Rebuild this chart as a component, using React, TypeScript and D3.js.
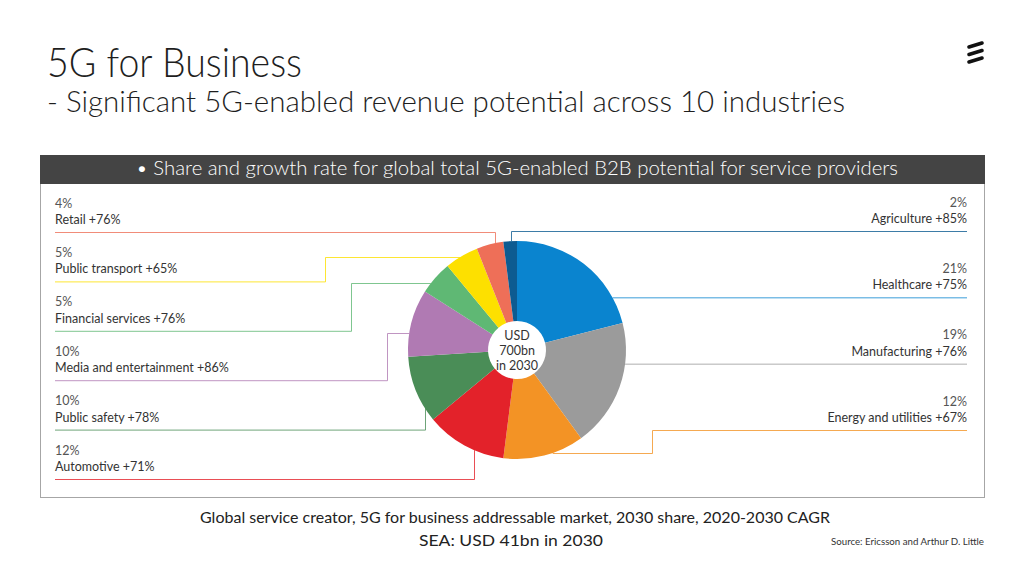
import React, { useEffect, useRef } from "react";
import * as d3 from "d3";

// slices, clockwise from 12 o'clock
const industries = [
  "Healthcare",
  "Manufacturing",
  "Energy and utilities",
  "Automotive",
  "Public safety",
  "Media and entertainment",
  "Financial services",
  "Public transport",
  "Retail",
  "Agriculture",
];
const shares = [21, 19, 12, 12, 10, 10, 5, 5, 4, 2];
const growth = [75, 76, 67, 71, 78, 86, 76, 65, 76, 85];
const sliceColors = [
  "#0a84cf",
  "#9b9b9b",
  "#f39325",
  "#e3222a",
  "#4a8d57",
  "#b07ab3",
  "#5fb874",
  "#fde000",
  "#ee6f58",
  "#0d5b91",
];

const leftLabels = [
  "Retail",
  "Public transport",
  "Financial services",
  "Media and entertainment",
  "Public safety",
  "Automotive",
];
const rightLabels = ["Agriculture", "Healthcare", "Manufacturing", "Energy and utilities"];

// leader routing: where it hooks into the slice (fraction of slice) and elbow x
const leaderStyle = {
  Retail: { mode: "v", t: 0.7 },
  "Public transport": { mode: "step", t: 0.46, elbow: 325 },
  "Financial services": { mode: "step", t: 0.3, elbow: 351 },
  "Media and entertainment": { mode: "step", t: 0.35, elbow: 387 },
  "Public safety": { mode: "v", t: 0.21 },
  Automotive: { mode: "v", t: 0.37 },
  Agriculture: { mode: "v", t: 0.55 },
  Healthcare: { mode: "h" },
  Manufacturing: { mode: "h" },
  "Energy and utilities": { mode: "step", t: 0.39, elbow: 652 },
};

const FONT = "Lato, 'Noto Sans', sans-serif";

const App = () => {
  const ref = useRef(null);

  useEffect(() => {
    const width = 1024;
    const height = 576;
    const svg = d3.select(ref.current);
    svg.selectAll("*").remove();
    svg.attr("width", width).attr("height", height);

    svg.append("rect").attr("width", width).attr("height", height).attr("fill", "#fff");

    // titles
    svg
      .append("text")
      .attr("x", 47)
      .attr("y", 77)
      .attr("font-family", FONT)
      .attr("font-weight", 300)
      .attr("font-size", 42)
      .attr("fill", "#1e1e1e")
      .attr("textLength", 255)
      .attr("lengthAdjust", "spacingAndGlyphs")
      .text("5G for Business");
    svg
      .append("text")
      .attr("x", 47)
      .attr("y", 112)
      .attr("font-family", FONT)
      .attr("font-weight", 300)
      .attr("font-size", 30)
      .attr("fill", "#1e1e1e")
      .attr("textLength", 798)
      .attr("lengthAdjust", "spacingAndGlyphs")
      .text("- Significant 5G-enabled revenue potential across 10 industries");

    // logo
    const logo = svg.append("g").attr("stroke", "#111").attr("stroke-width", 3.6).attr("stroke-linecap", "round");
    [0, 7.5, 15].forEach((dy) => {
      logo
        .append("line")
        .attr("x1", 969)
        .attr("y1", 47 + dy)
        .attr("x2", 982)
        .attr("y2", 43 + dy);
    });

    // panel
    const panel = { x: 40, y: 155, w: 944, h: 342, head: 29 };
    svg
      .append("rect")
      .attr("x", panel.x + 0.5)
      .attr("y", panel.y + 0.5)
      .attr("width", panel.w)
      .attr("height", panel.h)
      .attr("fill", "none")
      .attr("stroke", "#a6a6a6");
    svg
      .append("rect")
      .attr("x", panel.x)
      .attr("y", panel.y)
      .attr("width", panel.w + 1)
      .attr("height", panel.head)
      .attr("fill", "#444444");
    svg
      .append("text")
      .attr("x", panel.x + panel.w / 2 + 5)
      .attr("y", panel.y + 20)
      .attr("text-anchor", "middle")
      .attr("font-family", FONT)
      .attr("font-weight", 300)
      .attr("font-size", 19)
      .attr("fill", "#fff")
      .attr("textLength", 762)
      .attr("lengthAdjust", "spacingAndGlyphs")
      .text("\u2022 Share and growth rate for global total 5G-enabled B2B potential for service providers");

    // pie
    const cx = 517;
    const cy = 350;
    const r = 109;
    const data = industries.map((name, i) => ({
      name,
      share: shares[i],
      growth: growth[i],
      color: sliceColors[i],
    }));
    const arcs = d3
      .pie()
      .sort(null)
      .value((d) => d.share)(data);
    const arc = d3.arc().innerRadius(29).outerRadius(r);
    const byName = {};
    arcs.forEach((a) => (byName[a.data.name] = a));

    const onCircle = (angle) => [cx + r * Math.sin(angle), cy - r * Math.cos(angle)];

    // label rows
    const leftY = d3.scalePoint().domain(leftLabels).range([232.5, 479.5]);
    const rightY = d3.scalePoint().domain(rightLabels).range([231.5, 430.5]);
    const leftX = 55;
    const rightX = 967;

    const leaderPath = (name, side) => {
      const a = byName[name];
      const s = leaderStyle[name];
      const rowY = side === "left" ? leftY(name) : rightY(name);
      const startX = side === "left" ? leftX : rightX;
      if (s.mode === "h") {
        const dx = Math.sqrt(r * r - (rowY - cy) ** 2);
        const ax = side === "left" ? cx - dx : cx + dx;
        return d3.line()([
          [startX, rowY],
          [ax, rowY],
        ]);
      }
      const [ax, ay] = onCircle(a.startAngle + s.t * (a.endAngle - a.startAngle));
      if (s.mode === "v") {
        return d3.line()([
          [startX, rowY],
          [Math.round(ax) + 0.5, rowY],
          [Math.round(ax) + 0.5, ay],
        ]);
      }
      const ey = Math.round(ay) + 0.5;
      return d3.line()([
        [startX, rowY],
        [s.elbow + 0.5, rowY],
        [s.elbow + 0.5, ey],
        [ax, ey],
      ]);
    };

    const leaders = svg.append("g").attr("fill", "none").attr("stroke-width", 1);
    leftLabels.forEach((name) => {
      leaders
        .append("path")
        .attr("d", leaderPath(name, "left"))
        .attr("stroke", byName[name].data.color)
        .attr("stroke-opacity", 0.8);
    });
    rightLabels.forEach((name) => {
      leaders
        .append("path")
        .attr("d", leaderPath(name, "right"))
        .attr("stroke", byName[name].data.color)
        .attr("stroke-opacity", 0.8);
    });

    const pieG = svg.append("g").attr("transform", `translate(${cx},${cy})`);
    pieG
      .selectAll("path")
      .data(arcs)
      .enter()
      .append("path")
      .attr("d", arc)
      .attr("fill", (d) => d.data.color);

    const centerText = ["USD", "700bn", "in 2030"];
    pieG
      .selectAll("text")
      .data(centerText)
      .enter()
      .append("text")
      .attr("y", (d, i) => -10 + i * 15)
      .attr("text-anchor", "middle")
      .attr("font-family", FONT)
      .attr("font-size", 12.5)
      .attr("fill", "#333")
      .text((d) => d);

    // labels
    const addLabel = (name, side) => {
      const d = byName[name].data;
      const rowY = side === "left" ? leftY(name) : rightY(name);
      const x = side === "left" ? leftX : rightX;
      const anchor = side === "left" ? "start" : "end";
      svg
        .append("text")
        .attr("x", x)
        .attr("y", rowY - 25)
        .attr("text-anchor", anchor)
        .attr("font-family", FONT)
        .attr("font-size", 12.5)
        .attr("fill", "#555")
        .text(`${d.share}%`);
      svg
        .append("text")
        .attr("x", x)
        .attr("y", rowY - 8.5)
        .attr("text-anchor", anchor)
        .attr("font-family", FONT)
        .attr("font-size", 12.5)
        .attr("fill", "#333")
        .text(`${d.name} +${d.growth}%`);
    };
    leftLabels.forEach((n) => addLabel(n, "left"));
    rightLabels.forEach((n) => addLabel(n, "right"));

    // footer
    svg
      .append("text")
      .attr("x", 515)
      .attr("y", 523)
      .attr("text-anchor", "middle")
      .attr("font-family", FONT)
      .attr("font-size", 16)
      .attr("fill", "#222")
      .attr("textLength", 630)
      .attr("lengthAdjust", "spacingAndGlyphs")
      .text("Global service creator, 5G for business addressable market, 2030 share, 2020-2030 CAGR");
    svg
      .append("text")
      .attr("x", 511)
      .attr("y", 546)
      .attr("text-anchor", "middle")
      .attr("font-family", FONT)
      .attr("font-size", 16)
      .attr("fill", "#222")
      .attr("textLength", 184)
      .attr("lengthAdjust", "spacingAndGlyphs")
      .text("SEA: USD 41bn in 2030");
    svg
      .append("text")
      .attr("x", 984)
      .attr("y", 545)
      .attr("text-anchor", "end")
      .attr("font-family", FONT)
      .attr("font-size", 9.5)
      .attr("fill", "#333")
      .attr("textLength", 153)
      .attr("lengthAdjust", "spacingAndGlyphs")
      .text("Source: Ericsson and Arthur D. Little");
  }, []);

  return <svg ref={ref} style={{ position: "absolute", left: 0, top: 0 }}></svg>;
};

export default App;
